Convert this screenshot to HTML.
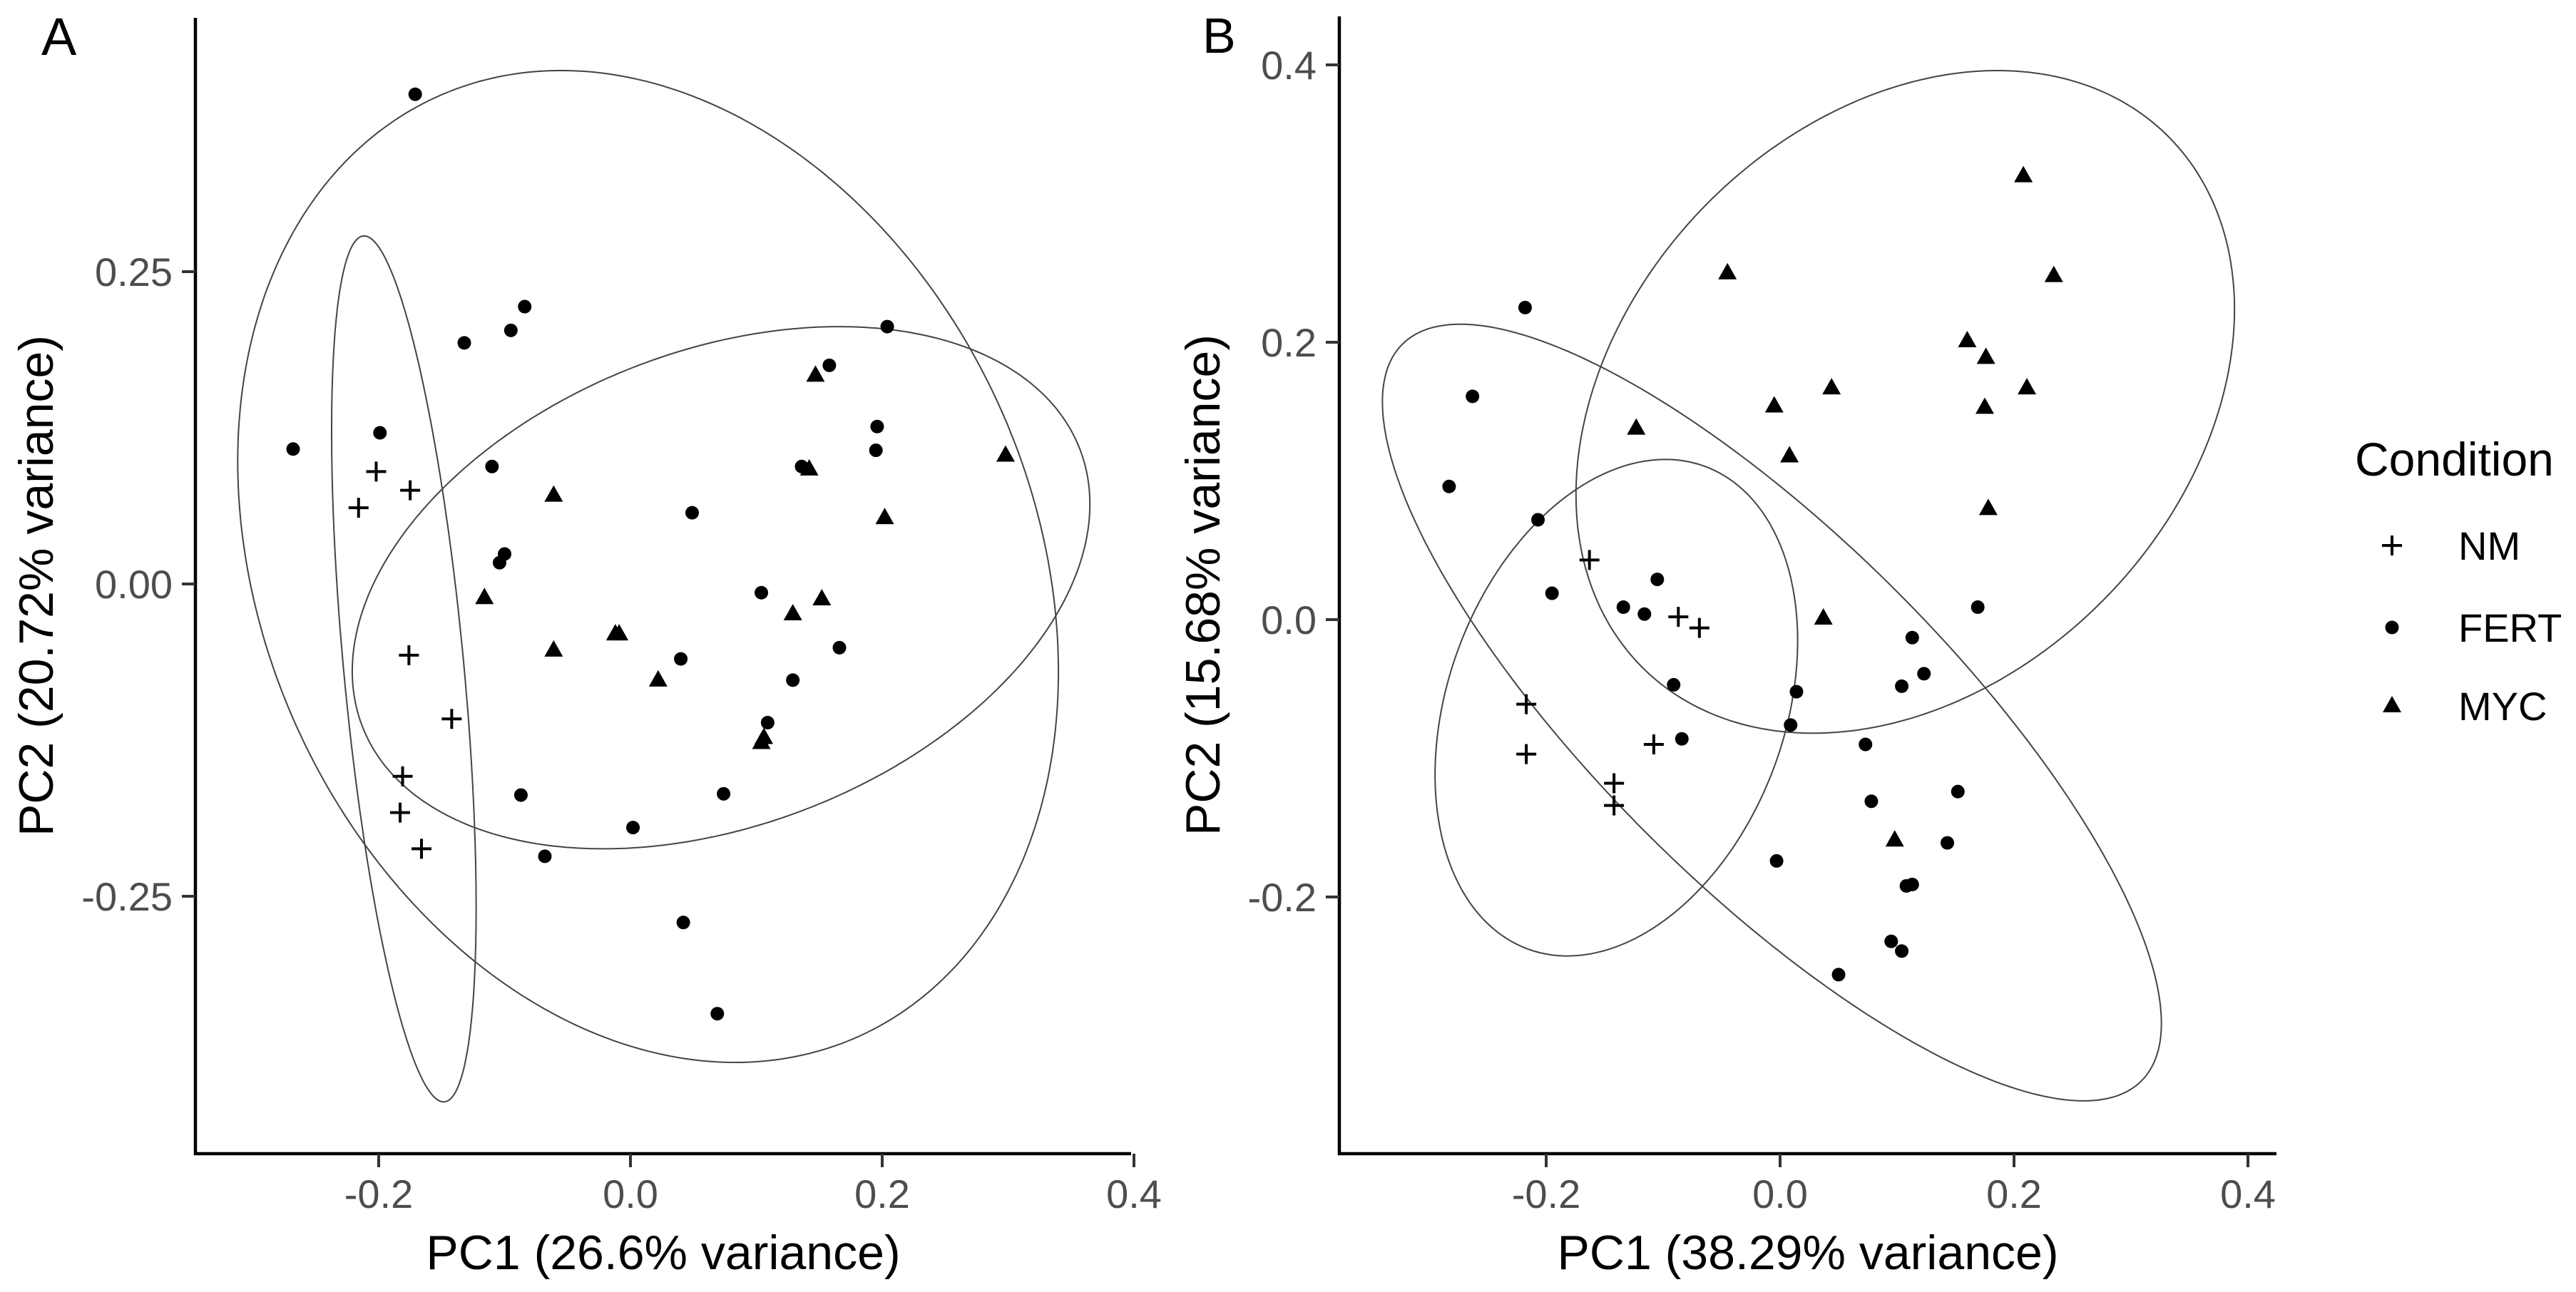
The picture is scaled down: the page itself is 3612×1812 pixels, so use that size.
<!DOCTYPE html>
<html><head><meta charset="utf-8">
<style>
html,body{margin:0;padding:0;background:#fff;}
svg{display:block;font-family:"Liberation Sans",Arial,sans-serif;}
</style></head>
<body>
<svg id="chart" width="3612" height="1812" viewBox="0 0 3612 1812" xmlns="http://www.w3.org/2000/svg">
<rect x="0" y="0" width="3612" height="1812" fill="#fff"/>
<g id="panelA"></g>
<g id="panelB"></g>
<g id="legend"></g>
</svg>
<script>
// ---------- Panel A data ----------
const aNMx = [-0.202,-0.175,-0.216,-0.176,-0.142,-0.181,-0.183,-0.166];
const aNMy = [0.090,0.075,0.061,-0.057,-0.108,-0.154,-0.183,-0.212];
const aFERTx = [-0.171,-0.268,-0.199,-0.132,-0.095,-0.084,0.204,0.158,0.196,0.195,0.136,-0.110,0.049,-0.100,-0.104,0.104,0.166,0.040,0.129,0.109,-0.087,0.074,0.002,-0.068,0.042,0.069];
const aFERTy = [0.392,0.108,0.121,0.193,0.203,0.222,0.206,0.175,0.126,0.107,0.094,0.094,0.057,0.024,0.017,-0.007,-0.051,-0.060,-0.077,-0.111,-0.169,-0.168,-0.195,-0.218,-0.271,-0.344];
const aMYCx = [0.147,0.142,0.298,0.202,-0.061,-0.116,0.152,0.129,-0.012,-0.009,-0.061,0.022,0.104,0.106];
const aMYCy = [0.167,0.092,0.103,0.053,0.071,-0.011,-0.012,-0.024,-0.040,-0.040,-0.053,-0.077,-0.127,-0.123];
// ellipses: [centerX, centerY, halfWidth, halfHeight, correlation]
const aEllipseFERT = [0.014,0.014,0.326,0.397,-0.212];
const aEllipseMYC = [0.072,-0.003,0.293,0.209,0.32];
const aEllipseNM = [-0.180,-0.068,0.0574,0.3466,-0.55];
const aXTicks = [-0.2,0.0,0.2,0.4];
const aXTickLabels = ["-0.2","0.0","0.2","0.4"];
const aYTicks = [0.25,0.0,-0.25];
const aYTickLabels = ["0.25","0.00","-0.25"];

// ---------- Panel B data ----------
const bNMx = [-0.163,-0.087,-0.069,-0.217,-0.217,-0.108,-0.142,-0.142];
const bNMy = [0.043,0.002,-0.006,-0.061,-0.097,-0.090,-0.118,-0.134];
const bFERTx = [-0.218,-0.263,-0.283,-0.207,-0.195,-0.134,-0.116,-0.105,-0.091,-0.084,0.014,0.009,0.169,0.113,0.123,0.104,0.073,0.078,0.152,0.143,-0.003,0.108,0.113,0.095,0.104,0.050];
const bFERTy = [0.225,0.161,0.096,0.072,0.019,0.009,0.004,0.029,-0.047,-0.086,-0.052,-0.076,0.009,-0.013,-0.039,-0.048,-0.090,-0.131,-0.124,-0.161,-0.174,-0.192,-0.191,-0.232,-0.239,-0.256];
const bMYCx = [0.208,-0.045,0.234,0.160,0.176,0.044,0.211,-0.005,0.175,-0.123,0.008,0.178,0.037,0.098];
const bMYCy = [0.320,0.250,0.248,0.201,0.189,0.167,0.167,0.154,0.153,0.138,0.118,0.080,0.001,-0.159];
const bEllipseMYC = [0.107,0.157,0.2815,0.2389,0.28];
const bEllipseFERT = [-0.007,-0.067,0.333,0.280,-0.80];
const bEllipseNM = [-0.140,-0.0635,0.155,0.179,0.27];
const bXTicks = [-0.2,0.0,0.2,0.4];
const bXTickLabels = ["-0.2","0.0","0.2","0.4"];
const bYTicks = [0.4,0.2,0.0,-0.2];
const bYTickLabels = ["0.4","0.2","0.0","-0.2"];

const legendLabels = ["NM","FERT","MYC"];

const NS = "http://www.w3.org/2000/svg";
function mk(tag, attrs, parent){
  const e = document.createElementNS(NS, tag);
  for (const k in attrs) e.setAttribute(k, attrs[k]);
  parent.appendChild(e);
  return e;
}

function drawPlus(g, px, py){
  const p = mk('path', {d:`M${px-14},${py}H${px+14}M${px},${py-14}V${py+14}`, stroke:'#000', 'stroke-width':4, fill:'none'}, g);
  
  
}
function drawDot(g, px, py){
  const c = mk('circle', {cx:px, cy:py, r:9.5, fill:'#000'}, g);
  
  
}
function drawTri(g, px, py){
  const p = mk('path', {d:`M${px},${py-14}L${px+13},${py+9}L${px-13},${py+9}Z`, fill:'#000'}, g);
  
  
}

function drawPanel(g, cfg){
  const X = v => cfg.x0 + v*cfg.kx;
  const Y = v => cfg.y0 - v*cfg.ky;
  cfg.ellipses.forEach((e, i) => {
    const [cx,cy,wx,hy,r] = e;
    let d = '';
    for (let k=0;k<=360;k++){
      const t = k*Math.PI/180;
      const dx = cx + wx*Math.cos(t);
      const dy = cy + hy*(r*Math.cos(t) + Math.sqrt(1-r*r)*Math.sin(t));
      d += (k? 'L':'M') + X(dx).toFixed(1) + ',' + Y(dy).toFixed(1);
    }
    const p = mk('path', {d:d+'Z', fill:'none', stroke:'#444', 'stroke-width':2}, g);
    
    
  });
  cfg.nmx.forEach((v,i)=>drawPlus(g, X(v), Y(cfg.nmy[i])));
  cfg.fx.forEach((v,i)=>drawDot(g, X(v), Y(cfg.fy[i])));
  cfg.mx.forEach((v,i)=>drawTri(g, X(v), Y(cfg.my[i])));
  const ax = mk('path', {d:`M${cfg.left},${cfg.top}V${cfg.bottom}H${cfg.right}`, fill:'none', stroke:'#000', 'stroke-width':4.5}, g);
  
  
  cfg.xt.forEach((v,i)=>{
    const t = mk('line', {x1:X(v), x2:X(v), y1:cfg.bottom, y2:cfg.bottom+19, stroke:'#333', 'stroke-width':4}, g);
    
    
    const l = mk('text', {x:X(v), y:cfg.bottom+76, 'font-size':56, fill:'#4d4d4d', 'text-anchor':'middle'}, g);
    l.textContent = cfg.xtl[i];
    
    
  });
  cfg.yt.forEach((v,i)=>{
    const t = mk('line', {x1:cfg.left-19, x2:cfg.left, y1:Y(v), y2:Y(v), stroke:'#333', 'stroke-width':4}, g);
    
    
    const l = mk('text', {x:cfg.left-32, y:Y(v)+20, 'font-size':56, fill:'#4d4d4d', 'text-anchor':'end'}, g);
    l.textContent = cfg.ytl[i];
    
    
  });
  const xt = mk('text', {x:(cfg.left+cfg.right)/2, y:1780, 'font-size':68, fill:'#000', 'text-anchor':'middle'}, g);
  xt.textContent = cfg.xTitle;
  
  
  const cy = (cfg.top+cfg.bottom)/2;
  const yt = mk('text', {x:cfg.yTitleX, y:cy, 'font-size':68, fill:'#000', 'text-anchor':'middle', transform:`rotate(-90 ${cfg.yTitleX} ${cy})`}, g);
  yt.textContent = cfg.yTitle;
  
  
  const tag = mk('text', {x:cfg.tagX, y:cfg.tagY, 'font-size':cfg.tagSize, fill:'#000'}, g);
  tag.textContent = cfg.tag;
  
  
}

drawPanel(document.getElementById('panelA'), {
  x0:884, kx:1765, y0:819, ky:1752, left:274, right:1586, top:25, bottom:1618,
  nmx:aNMx, nmy:aNMy, fx:aFERTx, fy:aFERTy, mx:aMYCx, my:aMYCy,
  ellipses:[aEllipseFERT,aEllipseMYC,aEllipseNM], ellNames:['fert-ellipse','myc-ellipse','nm-ellipse'],
  xt:aXTicks, xtl:aXTickLabels, yt:aYTicks, ytl:aYTickLabels,
  xTitle:'PC1 (26.6% variance)', yTitle:'PC2 (20.72% variance)', yTitleX:74,
  tag:'A', tagX:58, tagY:77, tagSize:74
});
drawPanel(document.getElementById('panelB'), {
  x0:2496, kx:1640, y0:869, ky:1945, left:1878, right:3192, top:23, bottom:1618,
  nmx:bNMx, nmy:bNMy, fx:bFERTx, fy:bFERTy, mx:bMYCx, my:bMYCy,
  ellipses:[bEllipseMYC,bEllipseFERT,bEllipseNM], ellNames:['myc-ellipse','fert-ellipse','nm-ellipse'],
  xt:bXTicks, xtl:bXTickLabels, yt:bYTicks, ytl:bYTickLabels,
  xTitle:'PC1 (38.29% variance)', yTitle:'PC2 (15.68% variance)', yTitleX:1710,
  tag:'B', tagX:1686, tagY:74, tagSize:70
});

const lg = document.getElementById('legend');
const lt = mk('text', {x:3302, y:667, 'font-size':66, fill:'#000'}, lg);
lt.textContent = 'Condition';


const ly = [765, 880, 990];
legendLabels.forEach((lab,i)=>{
  if (i===0) drawPlus(lg, 3354, ly[i]);
  if (i===1) drawDot(lg, 3354, ly[i]);
  if (i===2) drawTri(lg, 3354, ly[i]);
  const t = mk('text', {x:3447, y:ly[i]+20, 'font-size':56, fill:'#000'}, lg);
  t.textContent = lab;
  
  
});
</script>
</body></html>
